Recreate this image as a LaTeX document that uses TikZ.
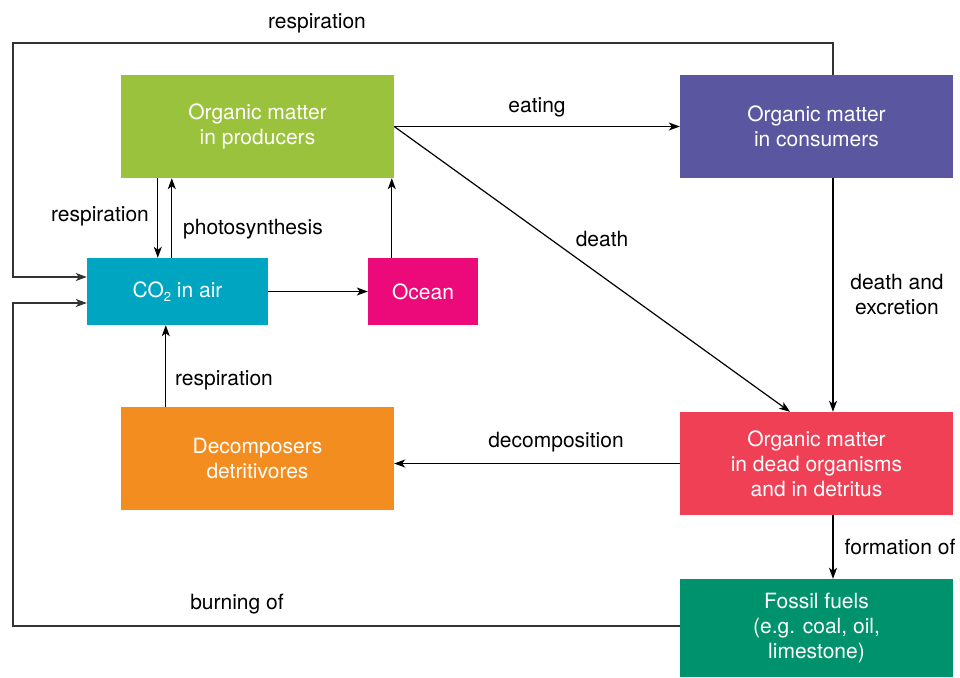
\documentclass[tikz,border=0pt]{standalone}
\usepackage{fontspec}
\setmainfont{TeX Gyre Heros}
\usetikzlibrary{arrows.meta,calc,positioning}
\definecolor{producer}{HTML}{9BC23C}
\definecolor{consumer}{HTML}{5A57A0}
\definecolor{airblue}{HTML}{00A5C2}
\definecolor{oceanpink}{HTML}{EC0A7B}
\definecolor{decomp}{HTML}{F38D20}
\definecolor{deadred}{HTML}{EF4056}
\definecolor{fossilgreen}{HTML}{00926C}
\definecolor{loopgrey}{HTML}{333333}
\tikzset{>={Stealth[length=11pt,width=8pt,inset=3pt]},
  every node/.style={font=\fontsize{21}{25}\selectfont},
  pool/.style={text=white,align=center,inner sep=0pt,minimum width=273pt,minimum height=103pt},
  flow/.style={->,draw=black,line width=1.2pt},
  cycle/.style={->,draw=loopgrey,line width=1.4pt},
  flowlabel/.style={text=black,align=center,inner sep=0pt}}

\begin{document}
\begin{tikzpicture}[x=1pt,y=-1pt]
\useasboundingbox (0,0) rectangle (960,677);
% carbon pools
\node[pool,fill=producer] (prod) at (257.5,126.5) {Organic matter\\in producers};
\node[pool,fill=consumer] (cons) at (816.5,126.5) {Organic matter\\in consumers};
\node[pool,fill=airblue,minimum width=181pt,minimum height=67pt] (co2) at (177.5,291.5) {CO\raisebox{-4pt}{\fontsize{13}{13}\selectfont 2} in air};
\node[pool,fill=oceanpink,minimum width=110pt,minimum height=67pt] (ocean) at (423,291.5) {Ocean};
\node[pool,fill=decomp] (decomp) at (257.5,458.5) {Decomposers\\detritivores};
\node[pool,fill=deadred] (dead) at (816.5,463.5) {Organic matter\\in dead organisms\\and in detritus};
\node[pool,fill=fossilgreen,minimum height=98pt] (fossil) at (816.5,628) {Fossil fuels\\(e.g. coal, oil,\\limestone)};
\coordinate (topleft) at (13,43);
\coordinate (botleft) at (13,626);
% fluxes
\draw[flow] ([xshift=37pt]prod.south west) -- ([xshift=37pt]prod.south west |- co2.north);
\draw[flow] ([xshift=85pt]co2.north west) -- ([xshift=85pt]co2.north west |- prod.south);
\draw[flow] ([xshift=24pt]ocean.north west) -- ([xshift=24pt]ocean.north west |- prod.south);
\draw[flow] (co2.east) -- (ocean.west);
\draw[flow] (prod.east) -- (cons.west);
\draw[flow] (prod.east) -- ([xshift=-26.5pt]dead.north);
\draw[flow] ([xshift=16.5pt]cons.south) -- ([xshift=16.5pt]dead.north);
\draw[flow] (dead.west) -- (dead.west -| decomp.east);
\draw[flow] ([xshift=45pt]decomp.north west) -- ([xshift=45pt]decomp.north west |- co2.south);
\draw[flow] ([xshift=16.5pt]dead.south) -- ([xshift=16.5pt]fossil.north);
\draw[cycle] ([xshift=16.5pt]cons.north) |- (topleft) |- ([yshift=14.5pt]co2.west);
\draw[cycle] ([yshift=2pt]fossil.west) -- (botleft) |- ([yshift=-11.5pt]co2.west);
% labels
\node[flowlabel] (resptop) at (317,23) {respiration};
\node[flowlabel] (respprod) at (100,216) {respiration};
\node[flowlabel] (photo) at (253,229) {photosynthesis};
\node[flowlabel] (eat) at (537,107) {eating};
\node[flowlabel] (death) at (602,239) {death};
\node[flowlabel] (excr) at (897,294) {death and\\excretion};
\node[flowlabel] (respdec) at (224,380) {respiration};
\node[flowlabel] (decomposition) at (556,442) {decomposition};
\node[flowlabel] (formation) at (900,547) {formation of};
\node[flowlabel] (burn) at (237,604) {burning of};
\end{tikzpicture}
\end{document}
